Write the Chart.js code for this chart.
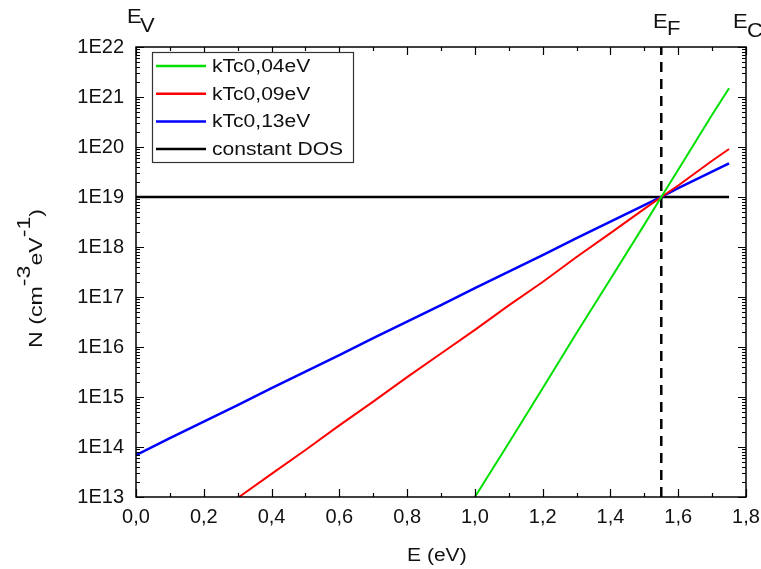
<!DOCTYPE html>
<html>
<head>
<meta charset="utf-8">
<script src="https://cdn.jsdelivr.net/npm/chart.js@4/dist/chart.umd.min.js"></script>
<style>
  body { margin: 0; background: #fff; }
  #wrap { width: 761px; height: 569px; }
</style>
</head>
<body>
<div id="wrap"><canvas id="dos-chart" width="761" height="569"></canvas></div>
<script>
// values (E in eV, N in cm^-3 eV^-1)
const seriesNames = ['kTc0,04eV', 'kTc0,09eV', 'kTc0,13eV', 'constant DOS'];

const greenE = [1.0, 1.1, 1.2, 1.3, 1.4, 1.5, 1.55, 1.6, 1.7, 1.75];
const greenN = [1e13, 1.2e14, 1.5e15, 1.9e16, 2.3e17, 2.8e18, 1e19, 3.5e19, 4.4e20, 1.5e21];

const redE = [0.304, 0.4, 0.5, 0.6, 0.7, 0.8, 0.9, 1.0, 1.1, 1.2, 1.3, 1.4, 1.5, 1.55, 1.6, 1.7, 1.75];
const redN = [1e13, 2.9e13, 8.7e13, 2.7e14, 8.1e14, 2.5e15, 7.4e15, 2.2e16, 6.8e16, 2.0e17, 6.3e17, 1.9e18, 5.8e18, 1e19, 1.7e19, 5.3e19, 9.1e19];

const blueE = [0.0, 0.1, 0.2, 0.3, 0.4, 0.5, 0.6, 0.7, 0.8, 0.9, 1.0, 1.1, 1.2, 1.3, 1.4, 1.5, 1.55, 1.6, 1.7, 1.75];
const blueN = [6.9e13, 1.5e14, 3.2e14, 6.9e14, 1.5e15, 3.2e15, 6.9e15, 1.5e16, 3.2e16, 6.9e16, 1.5e17, 3.2e17, 6.9e17, 1.5e18, 3.2e18, 6.9e18, 1e19, 1.5e19, 3.2e19, 4.7e19];

const constE = [0.0, 1.75];
const constN = [1e19, 1e19];

const fermiE = [1.55, 1.55];
const fermiN = [1e13, 1e22];

const xTickValues = [0, 0.2, 0.4, 0.6, 0.8, 1.0, 1.2, 1.4, 1.6, 1.8];
const xTickLabels = ['0,0', '0,2', '0,4', '0,6', '0,8', '1,0', '1,2', '1,4', '1,6', '1,8'];
const xMinorValues = [0.1, 0.3, 0.5, 0.7, 0.9, 1.1, 1.3, 1.5, 1.7];
const yTickValues = [1e13, 1e14, 1e15, 1e16, 1e17, 1e18, 1e19, 1e20, 1e21, 1e22];
const yTickLabels = ['1E13', '1E14', '1E15', '1E16', '1E17', '1E18', '1E19', '1E20', '1E21', '1E22'];

const FONT = '"Liberation Sans", Arial, sans-serif';

function toPoints(xs, ys) {
  return xs.map((x, i) => ({ x, y: ys[i] }));
}

// stretched text, the original figure uses a wide Arial
function wideText(ctx, text, x, y, size, stretch) {
  ctx.save();
  ctx.font = `${size}px ${FONT}`;
  ctx.translate(x, y);
  ctx.scale(stretch, 1);
  ctx.fillText(text, 0, 0);
  const w = ctx.measureText(text).width * stretch;
  ctx.restore();
  return w;
}

const decorations = {
  id: 'decorations',
  afterDatasetsDraw(chart) {
    const { ctx, chartArea: a, scales } = chart;
    const xs = scales.x;
    const ys = scales.y;

    ctx.save();
    ctx.strokeStyle = '#000';
    ctx.lineWidth = 1.5;
    ctx.strokeRect(a.left, a.top, a.right - a.left, a.bottom - a.top);

    // inward ticks on all four sides
    ctx.lineWidth = 1.2;
    ctx.beginPath();
    const xt = (v, len) => {
      const px = Math.round(xs.getPixelForValue(v)) + 0.5;
      ctx.moveTo(px, a.bottom); ctx.lineTo(px, a.bottom - len);
      ctx.moveTo(px, a.top); ctx.lineTo(px, a.top + len);
    };
    xTickValues.forEach(v => xt(v, 8));
    xMinorValues.forEach(v => xt(v, 4));
    const yt = (v, len) => {
      const py = Math.round(ys.getPixelForValue(v)) + 0.5;
      ctx.moveTo(a.left, py); ctx.lineTo(a.left + len, py);
      ctx.moveTo(a.right, py); ctx.lineTo(a.right - len, py);
    };
    yTickValues.forEach((v, i) => {
      yt(v, 8);
      if (i < yTickValues.length - 1) {
        for (let m = 2; m <= 9; m++) yt(v * m, 4);
      }
    });
    ctx.stroke();

    // legend box
    const lx = 152, ly = 52, lw = 201, lh = 110;
    ctx.fillStyle = '#fff';
    ctx.fillRect(lx, ly, lw, lh);
    ctx.strokeStyle = '#333';
    ctx.lineWidth = 1.2;
    ctx.strokeRect(lx + 0.5, ly + 0.5, lw, lh);
    chart.data.datasets.slice(0, 4).forEach((ds, i) => {
      const ry = 66 + i * 27.7;
      ctx.strokeStyle = ds.borderColor;
      ctx.lineWidth = 2.5;
      ctx.beginPath();
      ctx.moveTo(156, ry); ctx.lineTo(206, ry);
      ctx.stroke();
      ctx.fillStyle = '#111';
      ctx.textBaseline = 'middle';
      wideText(ctx, ds.label, 212, ry + 1, 18, 1.17);
    });

    // axis titles
    ctx.fillStyle = '#111';
    ctx.textBaseline = 'alphabetic';
    wideText(ctx, 'E (eV)', 407, 561, 18, 1.17);

    ctx.save();
    ctx.translate(42, 348);
    ctx.rotate(-Math.PI / 2);
    let off = 0;
    const part = (t, size, dy) => {
      ctx.font = `${size}px ${FONT}`;
      ctx.save();
      ctx.scale(1.22, 1);
      ctx.fillText(t, off / 1.22, dy);
      ctx.restore();
      off += ctx.measureText(t).width * 1.22;
    };
    part('N (cm', 19, 0);
    part('-3', 19, -12);
    part('eV', 19, 0);
    part('-1', 19, -12);
    part(')', 19, 0);
    ctx.restore();

    // band labels
    wideText(ctx, 'E', 127, 23, 20, 1.1);
    wideText(ctx, 'V', 140, 32, 20, 1.1);
    wideText(ctx, 'E', 653, 28, 20, 1.1);
    wideText(ctx, 'F', 667, 35, 20, 1.1);
    wideText(ctx, 'E', 733, 28, 20, 1.1);
    wideText(ctx, 'C', 747, 37, 20, 1.1);
    ctx.restore();
  }
};

const lineStyle = { pointRadius: 0, tension: 0, fill: false, showLine: true };

new Chart(document.getElementById('dos-chart'), {
  type: 'scatter',
  data: {
    datasets: [
      { label: seriesNames[0], data: toPoints(greenE, greenN), borderColor: '#00e000', borderWidth: 2, ...lineStyle },
      { label: seriesNames[1], data: toPoints(redE, redN), borderColor: '#ff0000', borderWidth: 2, ...lineStyle },
      { label: seriesNames[2], data: toPoints(blueE, blueN), borderColor: '#0000ff', borderWidth: 2.5, ...lineStyle },
      { label: seriesNames[3], data: toPoints(constE, constN), borderColor: '#000000', borderWidth: 2.5, ...lineStyle },
      { label: 'EF', data: toPoints(fermiE, fermiN), borderColor: '#000000', borderWidth: 2.5, borderDash: [10, 7], ...lineStyle }
    ]
  },
  options: {
    responsive: false,
    animation: false,
    layout: { autoPadding: false, padding: { left: 0, right: 15, top: 47, bottom: 0 } },
    plugins: {
      legend: { display: false },
      tooltip: { enabled: false }
    },
    scales: {
      x: {
        type: 'linear',
        min: 0,
        max: 1.8,
        grid: { display: false, drawTicks: false },
        border: { display: false },
        afterBuildTicks: (scale) => { scale.ticks = xTickValues.map(v => ({ value: v })); },
        afterFit: (scale) => {
          scale.height = 72;
          scale.paddingLeft = 0;
          scale.paddingRight = 0;
        },
        ticks: {
          padding: 8,
          color: '#111',
          font: { family: FONT, size: 20 },
          maxRotation: 0,
          autoSkip: false,
          callback: (v, i) => xTickLabels[i]
        }
      },
      y: {
        type: 'logarithmic',
        min: 1e13,
        max: 1e22,
        grid: { display: false, drawTicks: false },
        border: { display: false },
        afterBuildTicks: (scale) => { scale.ticks = yTickValues.map(v => ({ value: v })); },
        afterFit: (scale) => {
          scale.width = 136;
          scale.paddingTop = 0;
          scale.paddingBottom = 0;
        },
        ticks: {
          padding: 12,
          color: '#111',
          font: { family: FONT, size: 20 },
          autoSkip: false,
          callback: (v, i) => yTickLabels[i]
        }
      }
    }
  },
  plugins: [decorations]
});
</script>
</body>
</html>
